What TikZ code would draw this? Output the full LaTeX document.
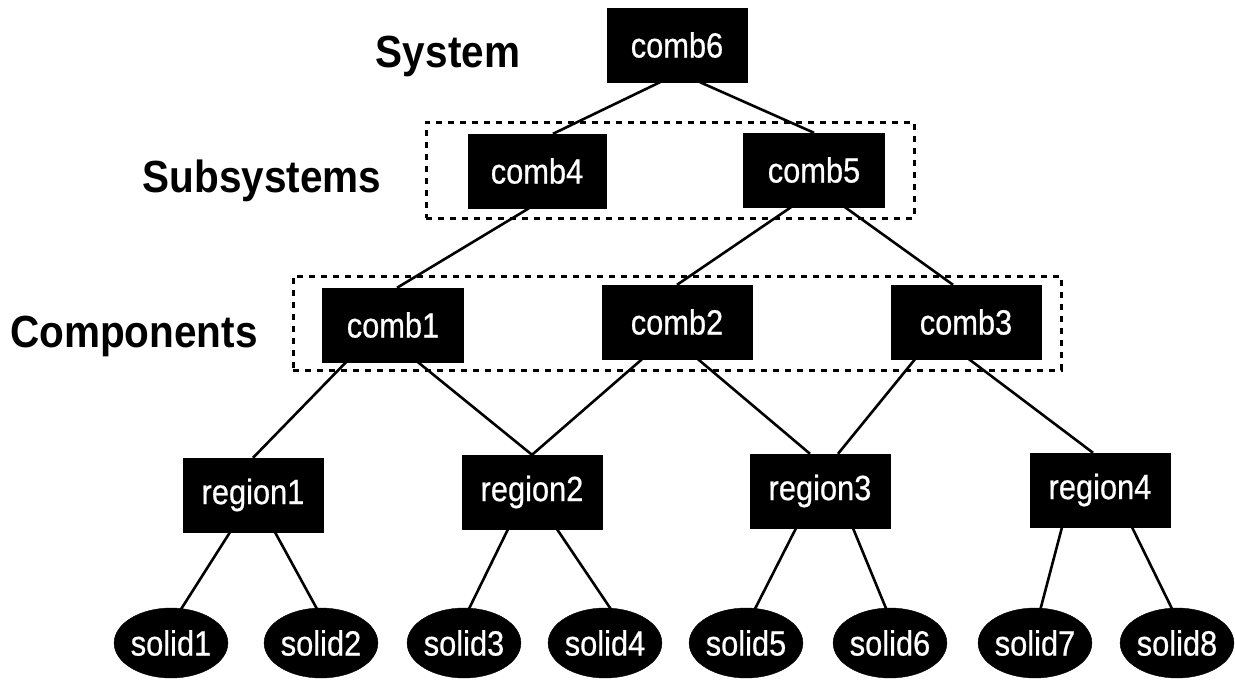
\documentclass[tikz,border=0pt]{standalone}
\usepackage{fontspec}
\newfontfamily\nodefont{Liberation Sans}[FakeStretch=0.88,FakeBold=0.6]
\newfontfamily\labelfont{Liberation Sans Bold}[FakeStretch=0.9]
\usetikzlibrary{shapes.geometric}
\begin{document}
\begin{tikzpicture}[x=1pt,y=-1pt,
  box/.style={draw=black,fill=black,text=white,minimum width=140pt,minimum height=74pt,inner sep=0pt,
    font=\nodefont\fontsize{35}{40}\selectfont},
  solidnode/.style={ellipse,draw=black,fill=black,text=white,minimum width=112pt,minimum height=70pt,inner sep=0pt,
    font=\nodefont\fontsize{35}{40}\selectfont},
  levellabel/.style={anchor=base,inner sep=0pt,font=\labelfont\fontsize{45}{50}\selectfont},
  groupbox/.style={draw=black,dash pattern=on 6pt off 6pt,line width=3pt,inner sep=0pt},
  conn/.style={draw=black,line width=2.6pt}]
\useasboundingbox (0,0) rectangle (1235,680);

% level labels
\node[levellabel] (lsys) at (448,67) {System};
\node[levellabel] (lsub) at (262,192) {Subsystems};
\node[levellabel] (lcomp) at (134,347) {Components};

% group boxes
\node[groupbox,minimum width=488pt,minimum height=96pt] (gsub) at (670,170) {};
\node[groupbox,minimum width=768pt,minimum height=94pt] (gcomp) at (677,323) {};

% combinations
\node[box] (comb6) at (677,45) {comb6};
\node[box,minimum width=138pt] (comb4) at (537,171) {comb4};
\node[box,minimum width=141pt] (comb5) at (814,170) {comb5};
\node[box,minimum width=141pt] (comb1) at (393,325) {comb1};
\node[box,minimum width=150pt] (comb2) at (677,322) {comb2};
\node[box,minimum width=150pt] (comb3) at (966,322) {comb3};

% regions
\node[box] (region1) at (253,495) {region1};
\node[box] (region2) at (532,492) {region2};
\node[box] (region3) at (820,491) {region3};
\node[box] (region4) at (1100,490) {region4};

% solids
\node[solidnode] (solid1) at (171,643) {solid1};
\node[solidnode] (solid2) at (321,643) {solid2};
\node[solidnode] (solid3) at (464,643) {solid3};
\node[solidnode] (solid4) at (605,643) {solid4};
\node[solidnode] (solid5) at (746,643) {solid5};
\node[solidnode] (solid6) at (890,643) {solid6};
\node[solidnode] (solid7) at (1035,643) {solid7};
\node[solidnode] (solid8) at (1177,643) {solid8};

% connectors
\draw[conn] ([xshift=-17pt]comb6.south) -- ([xshift=16pt]comb4.north);
\draw[conn] ([xshift=23pt]comb6.south) -- (comb5.north);
\draw[conn] ([xshift=-8pt]comb4.south) -- ([xshift=4pt]comb1.north);
\draw[conn] ([xshift=-23pt]comb5.south) -- (comb2.north);
\draw[conn] ([xshift=31pt]comb5.south) -- ([xshift=-13pt]comb3.north);
\draw[conn] ([xshift=-47pt]comb1.south) -- (region1.north);
\draw[conn] ([xshift=25pt]comb1.south) -- (region2.north);
\draw[conn] ([xshift=-35pt]comb2.south) -- (region2.north);
\draw[conn] ([xshift=21pt]comb2.south) -- ([xshift=-10pt]region3.north);
\draw[conn] ([xshift=-51pt]comb3.south) -- ([xshift=18pt]region3.north);
\draw[conn] ([xshift=3pt]comb3.south) -- ([xshift=-7pt]region4.north);
\draw[conn] ([xshift=-23pt]region1.south) -- ([xshift=9pt,yshift=-3pt]solid1.north);
\draw[conn] ([xshift=22pt]region1.south) -- ([xshift=-3pt,yshift=-3pt]solid2.north);
\draw[conn] ([xshift=-24pt]region2.south) -- ([xshift=4pt,yshift=-3pt]solid3.north);
\draw[conn] ([xshift=25pt]region2.south) -- ([xshift=7pt,yshift=-3pt]solid4.north);
\draw[conn] ([xshift=-24pt]region3.south) -- ([xshift=8pt,yshift=-3pt]solid5.north);
\draw[conn] ([xshift=33pt]region3.south) -- ([xshift=-3pt,yshift=-3pt]solid6.north);
\draw[conn] ([xshift=-38pt]region4.south) -- ([xshift=5pt,yshift=-3pt]solid7.north);
\draw[conn] ([xshift=32pt]region4.south) -- ([xshift=-4pt,yshift=-3pt]solid8.north);
\end{tikzpicture}
\end{document}
